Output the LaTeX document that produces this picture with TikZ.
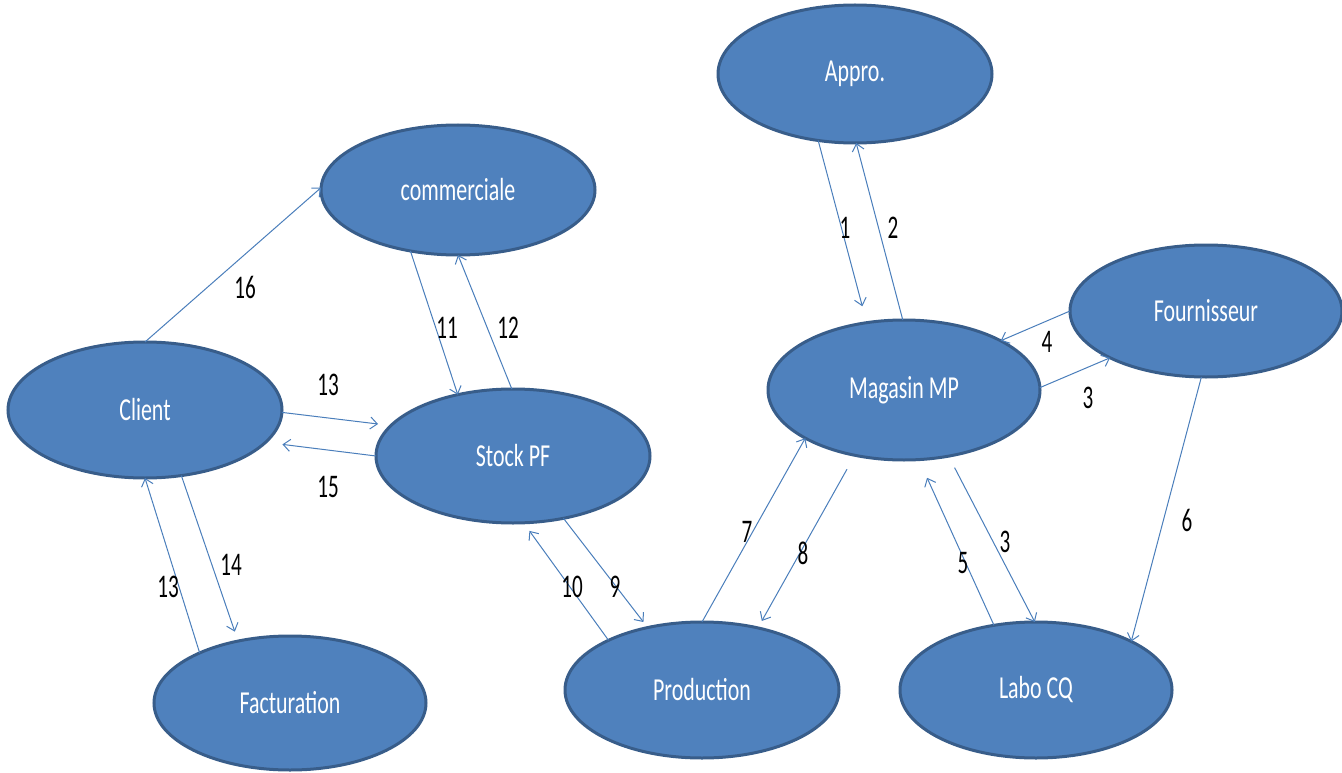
\documentclass[tikz,border=0pt]{standalone}
\usepackage{fontspec}
\setmainfont{Carlito}
\usepackage{graphicx}
\usetikzlibrary{shapes.geometric,arrows.meta}
\definecolor{fillblue}{HTML}{4F81BD}
\definecolor{edgeblue}{HTML}{385D8A}
\definecolor{linkblue}{HTML}{4A7EBB}
% condensed lettering
\newcommand{\narrow}[1]{\scalebox{0.685}[1]{#1}}
\newcommand{\narrownum}[1]{\scalebox{0.64}[1]{#1}}
\begin{document}
\begin{tikzpicture}[x=1pt,y=-1pt,
  entity/.style={ellipse, draw=edgeblue, fill=fillblue, line width=3pt,
    inner sep=0pt, outer sep=0pt, text=white,
    font=\fontsize{32}{38}\selectfont},
  flow/.style={draw=linkblue, line width=1pt,
    -{Straight Barb[length=7pt,width=12pt]}},
  num/.style={font=\fontsize{33}{38}\selectfont, text=black, inner sep=0pt}]
\useasboundingbox (0,0) rectangle (1342,773);

% services
\node[entity, minimum width=274pt, minimum height=138pt] (appro)  at (855,74)   {\narrow{Appro.}};
\node[entity, minimum width=274pt, minimum height=130pt] (comm)   at (458,190)  {\narrow{commerciale}};
\node[entity, minimum width=272pt, minimum height=132pt] (four)   at (1206,311) {\narrow{Fournisseur}};
\node[entity, minimum width=272pt, minimum height=140pt] (mag)    at (904,390)  {\narrow{Magasin MP}};
\node[entity, minimum width=274pt, minimum height=136pt] (client) at (145,410)  {\narrow{Client}};
\node[entity, minimum width=274pt, minimum height=134pt] (stock)  at (513,456)  {\narrow{Stock PF}};
\node[entity, minimum width=272pt, minimum height=134pt] (fact)   at (290,703)  {\narrow{Facturation}};
\node[entity, minimum width=274pt, minimum height=136pt] (prod)   at (702,690)  {\narrow{Production}};
\node[entity, minimum width=272pt, minimum height=136pt] (labo)   at (1036,690) {\narrow{Labo CQ}};

% flows
\draw[flow, shorten >=17pt] (appro.-119) -- (mag.119);
\draw[flow] (mag.91) -- (appro.-89);
\draw[flow] (four.180) -- (mag.27);
\draw[flow] (mag.1) -- (four.-154);
\draw[flow] (four.-94) -- (labo.27);
\draw[flow] (prod.90) -- (mag.-154);
\draw[flow, shorten <=16pt, shorten >=8pt] (mag.-127) -- (prod.48);
\draw[flow, shorten >=20pt] (labo.123.5) -- (mag.-78.6);
\draw[flow, shorten <=13pt] (mag.-56) -- (labo.91);
\draw[flow, shorten >=7pt] (stock.-51) -- (prod.131.4);
\draw[flow, shorten >=10pt] (prod.152.7) -- (stock.-81);
\draw[flow] (comm.-128.7) -- (stock.132.2);
\draw[flow] (stock.91) -- (comm.-90);
\draw[flow, shorten >=13pt] (client.-1) -- (stock.166.4);
\draw[flow, shorten >=17pt] (stock.180) -- (client.-15.1);
\draw[flow] (client.90) -- (comm.179);
\draw[flow] (fact.151.3) -- (client.-90);
\draw[flow, shorten >=10pt] (client.-61.2) -- (fact.130.6);

% flow numbers
\node[num] (n1)   at (845,228)  {\narrownum{1}};
\node[num] (n2)   at (893,228)  {\narrownum{2}};
\node[num] (n4)   at (1047,342) {\narrownum{4}};
\node[num] (n3a)  at (1088,398) {\narrownum{3}};
\node[num] (n6)   at (1187,520) {\narrownum{6}};
\node[num] (n7)   at (747,532)  {\narrownum{7}};
\node[num] (n8)   at (803,553)  {\narrownum{8}};
\node[num] (n5)   at (963,563)  {\narrownum{5}};
\node[num] (n3b)  at (1005,542) {\narrownum{3}};
\node[num] (n9)   at (615,587)  {\narrownum{9}};
\node[num] (n10)  at (572,587)  {\narrownum{10}};
\node[num] (n11)  at (447,328)  {\narrownum{11}};
\node[num] (n12)  at (508,328)  {\narrownum{12}};
\node[num] (n13a) at (328,385)  {\narrownum{13}};
\node[num] (n15)  at (328,487)  {\narrownum{15}};
\node[num] (n16)  at (245,287)  {\narrownum{16}};
\node[num] (n13b) at (168,587)  {\narrownum{13}};
\node[num] (n14)  at (231,565)  {\narrownum{14}};
\end{tikzpicture}
\end{document}
